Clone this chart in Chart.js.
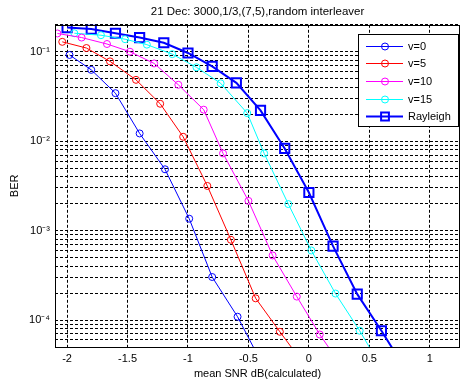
<!DOCTYPE html>
<html><head><meta charset="utf-8">
<script src="https://cdn.jsdelivr.net/npm/chart.js@4"></script>
<style>html,body{margin:0;padding:0;background:#fff}</style>
</head><body>
<canvas id="c" width="462" height="382"></canvas>
<script>
// ---- data ----
const titleText = '21 Dec: 3000,1/3,(7,5),random interleaver';
const xTitle = 'mean SNR dB(calculated)';
const yTitle = 'BER';
const seriesNames = ['v=0', 'v=5', 'v=10', 'v=15', 'Rayleigh'];
const xTicks = [-2, -1.5, -1, -0.5, 0, 0.5, 1];
const yMajorTicks = [1e-4, 1e-3, 1e-2, 1e-1];
const yTickLabels = ['10\u207B\u2074', '10\u207B\u00B3', '10\u207B\u00B2', '10\u207B\u00B9'];

const v0X = [-1.98, -1.80, -1.60, -1.40, -1.19, -0.99, -0.80, -0.59, -0.40];
const v0Y = [0.092, 0.0627, 0.0344, 0.0122, 0.00485, 0.00136, 0.000303, 0.000109, 0.000035];

const v5X = [-2.04, -1.84, -1.645, -1.43, -1.23, -1.04, -0.84, -0.645, -0.44, -0.24, -0.04];
const v5Y = [0.129, 0.110, 0.078, 0.0485, 0.0262, 0.0112, 0.00316, 0.00079, 0.000175, 0.000074, 0.000032];

const v10X = [-2.08, -1.88, -1.67, -1.48, -1.28, -1.08, -0.87, -0.71, -0.50, -0.30, -0.10, 0.09, 0.29];
const v10Y = [0.16, 0.144, 0.122, 0.100, 0.074, 0.0427, 0.0225, 0.0073, 0.00215, 0.000528, 0.000183, 0.000069, 0.000028];

const v15X = [-1.94, -1.72, -1.52, -1.34, -1.13, -0.93, -0.73, -0.51, -0.37, -0.17, 0.02, 0.22, 0.42, 0.61];
const v15Y = [0.161, 0.153, 0.138, 0.120, 0.094, 0.067, 0.0444, 0.0206, 0.0073, 0.00198, 0.0006, 0.000198, 0.000076, 0.000028];

const rayX = [-2, -1.8, -1.6, -1.4, -1.2, -1.0, -0.8, -0.6, -0.4, -0.2, 0, 0.2, 0.4, 0.6, 0.8];
const rayY = [0.186, 0.179, 0.161, 0.144, 0.126, 0.0968, 0.0687, 0.0449, 0.0221, 0.0083, 0.00267, 0.00067, 0.000195, 0.000076, 0.000028];

// ---- chart ----
const FONT = "'Liberation Sans', Arial, Helvetica, sans-serif";
Chart.defaults.font.family = FONT;
Chart.defaults.font.size = 11;
Chart.defaults.color = '#000';

const zip = (xs, ys) => xs.map((x, i) => ({x: x, y: ys[i]}));
const styles = [
  {color: '#0000FF', lw: 1, style: 'circle', r: 3.5},
  {color: '#FF0000', lw: 1, style: 'circle', r: 3.5},
  {color: '#FF00FF', lw: 1, style: 'circle', r: 3.5},
  {color: '#00FFFF', lw: 1, style: 'circle', r: 3.5},
  {color: '#0000FF', lw: 2, style: 'rect', r: 6.5}
];
const xsAll = [v0X, v5X, v10X, v15X, rayX];
const ysAll = [v0Y, v5Y, v10Y, v15Y, rayY];

const datasets = seriesNames.map((name, i) => ({
  label: name,
  data: zip(xsAll[i], ysAll[i]),
  borderColor: styles[i].color,
  borderWidth: styles[i].lw,
  pointStyle: styles[i].style,
  pointRadius: styles[i].r,
  pointBorderColor: styles[i].color,
  pointBorderWidth: styles[i].lw,
  pointBackgroundColor: 'rgba(0,0,0,0)',
  tension: 0,
  fill: false
}));

// all y grid ticks: 1..9 x 10^d inside the range
const yMin = 5e-5, yMax = 0.2;
const yGridTicks = [];
for (let d = -5; d <= -1; d++) {
  for (let m = 1; m <= 9; m++) {
    const v = +(m * Math.pow(10, d)).toPrecision(6);
    if (v >= yMin && v <= yMax) yGridTicks.push(v);
  }
}

const frameAndLegend = {
  id: 'frameAndLegend',
  afterDatasetsDraw(chart) {
    const c = chart.ctx, a = chart.chartArea;
    c.save();
    c.strokeStyle = '#000';
    c.lineWidth = 1;
    c.setLineDash([]);
    c.strokeRect(Math.round(a.left) + 0.5, Math.round(a.top) + 0.5,
                 Math.round(a.right - a.left) - 1, Math.round(a.bottom - a.top));
    // legend
    const x0 = Math.round(a.right) - 102, y0 = Math.round(a.top) + 9, w = 100, h = 92;
    c.fillStyle = '#fff';
    c.fillRect(x0, y0, w, h);
    c.strokeRect(x0 + 0.5, y0 + 0.5, w, h);
    c.font = '11px ' + FONT;
    c.textBaseline = 'middle';
    c.textAlign = 'left';
    chart.data.datasets.forEach((ds, i) => {
      const y = Math.round(y0 + 11.5 + i * 17.7) + 0.5;
      c.strokeStyle = ds.borderColor;
      c.lineWidth = ds.borderWidth;
      c.beginPath();
      c.moveTo(x0 + 8, y);
      c.lineTo(x0 + 45, y);
      c.stroke();
      const mx = x0 + 27;
      c.beginPath();
      if (ds.pointStyle === 'rect') {
        const s = ds.pointRadius * Math.SQRT1_2 * 0.85;
        c.rect(mx - s, y - s, 2 * s, 2 * s);
      } else {
        c.arc(mx, y, ds.pointRadius, 0, Math.PI * 2);
      }
      c.stroke();
      c.fillStyle = '#000';
      c.fillText(ds.label, x0 + 50, y);
    });
    c.restore();
  }
};

new Chart(document.getElementById('c'), {
  type: 'line',
  data: {datasets: datasets},
  plugins: [frameAndLegend],
  options: {
    responsive: false,
    animation: false,
    events: [],
    layout: {autoPadding: false, padding: {left: 0, right: 2, top: 0, bottom: 0}},
    plugins: {
      legend: {display: false},
      tooltip: {enabled: false},
      title: {
        display: true, text: titleText, fullSize: false,
        color: '#000', font: {size: 11.5, weight: 'normal'},
        padding: {top: 5, bottom: 6}
      }
    },
    scales: {
      x: {
        type: 'linear', min: -2.1, max: 1.25,
        afterBuildTicks: s => { s.ticks = xTicks.map(v => ({value: v})); },
        afterFit: s => { s.height = 35; },
        ticks: {color: '#000', padding: 5, autoSkip: false, maxRotation: 0,
                callback: v => String(v)},
        grid: {color: '#000', lineWidth: 1, drawTicks: false},
        border: {display: false, dash: [3, 2]},
        title: {display: true, text: xTitle, color: '#000', padding: {top: 0, bottom: 1}}
      },
      y: {
        type: 'logarithmic', min: yMin, max: yMax,
        afterBuildTicks: s => { s.ticks = yGridTicks.map(v => ({value: v})); },
        afterFit: s => { s.width = 55; },
        ticks: {color: '#000', padding: 5, autoSkip: false,
                callback: v => {
                  const k = yMajorTicks.findIndex(m => Math.abs(m - v) / m < 1e-6);
                  return k >= 0 ? yTickLabels[k] : '';
                }},
        grid: {color: '#000', lineWidth: 1, drawTicks: false},
        border: {display: false, dash: [3, 2]},
        title: {display: true, text: yTitle, color: '#000', padding: {top: 8, bottom: 0}}
      }
    }
  }
});
</script>
</body></html>
